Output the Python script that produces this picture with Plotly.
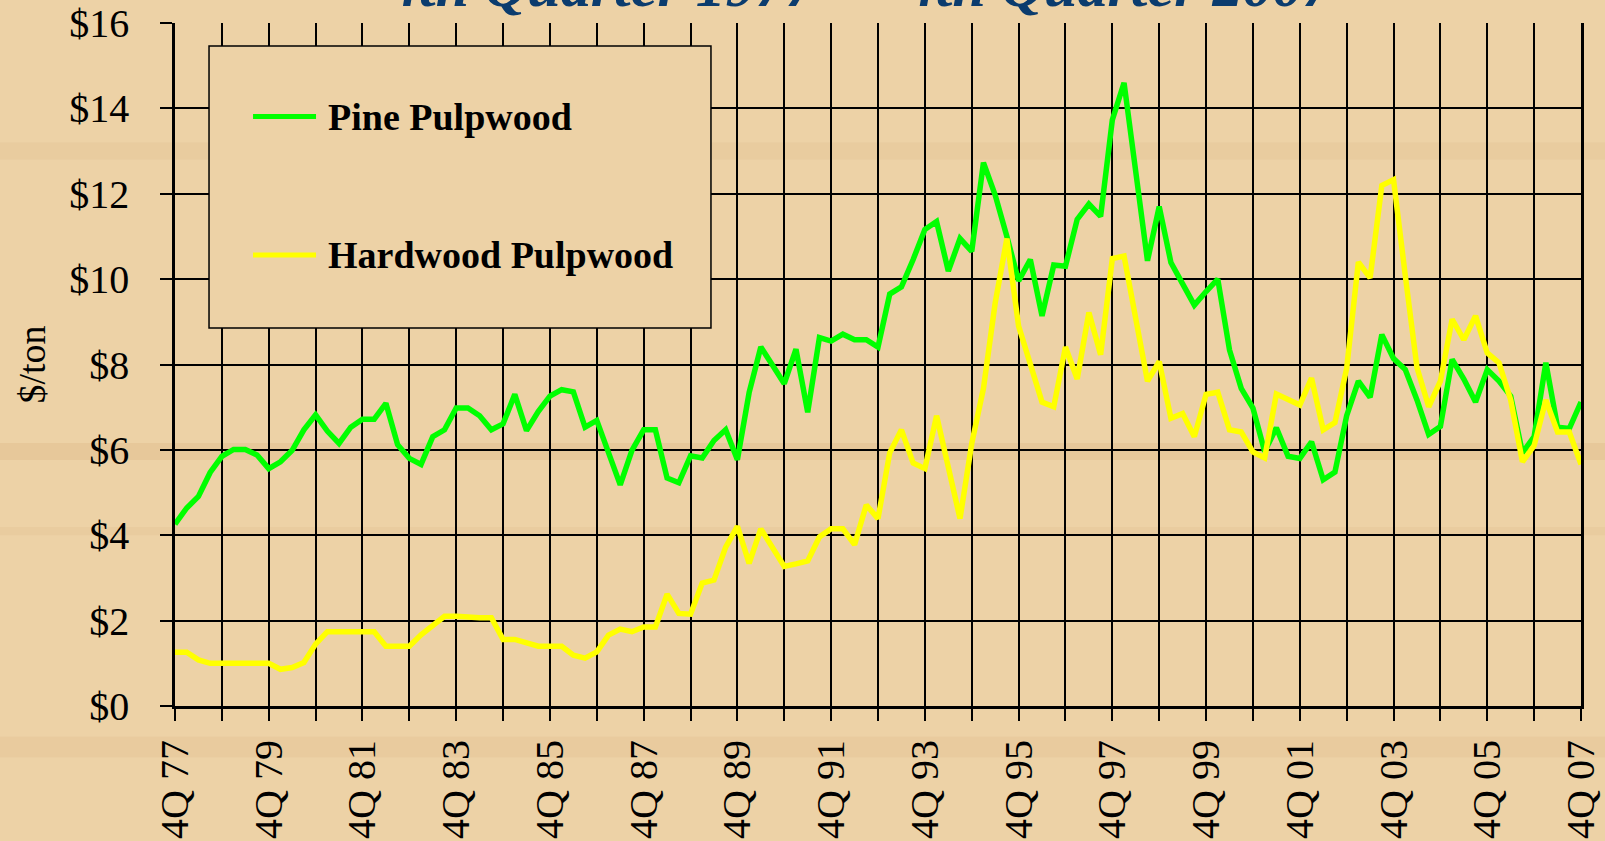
import plotly.graph_objects as go

# ---------------- data (quarterly, 4Q 1977 .. 4Q 2007) ----------------
pine = [
    4.26, 4.64, 4.91, 5.47, 5.85, 6.01, 6.01, 5.88, 5.56, 5.72,
    5.99, 6.47, 6.82, 6.44, 6.15, 6.53, 6.72, 6.72, 7.09, 6.12,
    5.80, 5.66, 6.31, 6.47, 6.98, 6.98, 6.80, 6.47, 6.61, 7.30,
    6.45, 6.90, 7.26, 7.41, 7.36, 6.53, 6.69, 5.93, 5.18, 5.99,
    6.47, 6.47, 5.34, 5.23, 5.86, 5.81, 6.22, 6.47, 5.77, 7.34,
    8.41, 7.98, 7.55, 8.36, 6.88, 8.63, 8.55, 8.71, 8.58, 8.58,
    8.41, 9.65, 9.82, 10.46, 11.16, 11.35, 10.19, 10.95, 10.65, 12.73,
    11.97, 11.00, 9.96, 10.46, 9.14, 10.33, 10.30, 11.40, 11.76, 11.47,
    13.73, 14.60, 12.50, 10.43, 11.70, 10.39, 9.89, 9.39, 9.71, 10.00,
    8.34, 7.44, 6.98, 5.96, 6.52, 5.85, 5.80, 6.19, 5.30, 5.48,
    6.80, 7.61, 7.23, 8.70, 8.14, 7.88, 7.17, 6.36, 6.55, 8.12,
    7.66, 7.12, 7.88, 7.61, 7.26, 5.93, 6.31, 8.04, 6.53, 6.50,
    7.12,
]
hardwood = [
    1.26, 1.26, 1.08, 1.00, 1.00, 1.00, 1.00, 1.00, 1.00, 0.86,
    0.90, 1.02, 1.45, 1.74, 1.74, 1.74, 1.74, 1.74, 1.40, 1.40,
    1.40, 1.67, 1.87, 2.10, 2.10, 2.07, 2.07, 2.07, 1.56, 1.56,
    1.48, 1.40, 1.40, 1.40, 1.19, 1.12, 1.27, 1.66, 1.80, 1.74,
    1.85, 1.85, 2.62, 2.17, 2.15, 2.88, 2.95, 3.72, 4.21, 3.34,
    4.15, 3.72, 3.27, 3.33, 3.40, 3.96, 4.15, 4.15, 3.78, 4.71,
    4.39, 5.93, 6.47, 5.69, 5.56, 6.80, 5.66, 4.39, 6.15, 7.44,
    9.44, 10.95, 8.90, 8.04, 7.12, 7.01, 8.41, 7.66, 9.22, 8.23,
    10.48, 10.54, 9.10, 7.61, 8.07, 6.74, 6.85, 6.31, 7.30, 7.35,
    6.47, 6.42, 5.95, 5.81, 7.31, 7.17, 7.05, 7.68, 6.47, 6.64,
    7.91, 10.40, 10.03, 12.19, 12.33, 10.09, 7.93, 7.01, 7.61, 9.06,
    8.58, 9.14, 8.27, 8.04, 7.17, 5.72, 6.10, 7.17, 6.42, 6.42,
    5.66,
]
quarter_index = list(range(len(pine)))

tick_years = ["77", "78", "79", "80", "81", "82", "83", "84", "85", "86",
              "87", "88", "89", "90", "91", "92", "93", "94", "95", "96",
              "97", "98", "99", "00", "01", "02", "03", "04", "05", "06", "07"]
tick_labels = [("4Q " + yr) if k % 2 == 0 else "" for k, yr in enumerate(tick_years)]
x_tick_positions = [4 * k for k in range(len(tick_years))]
y_ticks = [0, 2, 4, 6, 8, 10, 12, 14, 16]
y_tick_labels = ["$" + str(v) for v in y_ticks]

series_names = ["Pine Pulpwood", "Hardwood Pulpwood"]
series_colors = ["#00FF00", "#FFFF00"]

title_text = "4th Quarter 1977 \u2014 4th Quarter 2007"
y_title = "$/ton"

# ---------------- figure ----------------
BG = "#EDD2A6"
SERIF = "Liberation Serif, Times New Roman, serif"

fig = go.Figure()
for name, values, color in zip(series_names, [pine, hardwood], series_colors):
    fig.add_trace(go.Scatter(
        x=quarter_index, y=values, mode="lines", name=name,
        line=dict(color=color, width=5.5), showlegend=False,
    ))

# faint wood-grain like bands in the background
bands = [(0.80, 0.825, "rgba(190,140,80,0.08)"),
         (0.36, 0.385, "rgba(190,130,70,0.12)"),
         (0.25, 0.262, "rgba(190,130,70,0.07)"),
         (-0.075, -0.045, "rgba(190,130,70,0.08)")]
shapes = []
for y0, y1, col in bands:
    shapes.append(dict(type="rect", xref="paper", yref="paper", x0=-0.2, x1=1.1,
                       y0=y0, y1=y1, fillcolor=col, line=dict(width=0), layer="below"))

# custom legend box
shapes.append(dict(type="rect", xref="paper", yref="paper",
                   x0=0.0242, x1=0.3812, y0=0.5535, y1=0.9663,
                   fillcolor=BG, line=dict(color="black", width=1.5), layer="above"))
legend_rows = [0.8630, 0.6603]
annotations = []
for name, color, yy in zip(series_names, series_colors, legend_rows):
    shapes.append(dict(type="line", xref="paper", yref="paper",
                       x0=0.0555, x1=0.1003, y0=yy, y1=yy,
                       line=dict(color=color, width=5), layer="above"))
    annotations.append(dict(text=name, xref="paper", yref="paper",
                            x=0.1074, y=yy, xanchor="left", yanchor="middle",
                            showarrow=False,
                            font=dict(family=SERIF, size=38, color="black", weight="bold")))

annotations.append(dict(text=title_text, xref="paper", yref="paper",
                        x=0.488, y=1.0, xanchor="center", yanchor="bottom",
                        yshift=2, showarrow=False,
                        font=dict(family=SERIF, size=60, color="#0B3C6E",
                                  style="italic", weight="bold")))

fig.update_layout(
    width=1605, height=841,
    margin=dict(l=175, r=24, t=23, b=135, autoexpand=False),
    paper_bgcolor=BG, plot_bgcolor="rgba(0,0,0,0)",
    shapes=shapes, annotations=annotations,
    showlegend=False,
    font=dict(family=SERIF, color="black"),
)
fig.update_xaxes(
    range=[0, 120], tickmode="array", tickvals=x_tick_positions, ticktext=tick_labels,
    tickangle=-90, ticks="outside", ticklen=12, tickwidth=2, tickcolor="black",
    showgrid=True, gridcolor="black", gridwidth=1.5,
    showline=True, linecolor="black", linewidth=3, zeroline=False, automargin=False,
    tickfont=dict(family=SERIF, size=40, color="black"), ticklabelstandoff=3,
)
fig.update_yaxes(
    range=[0, 16], tickmode="array", tickvals=y_ticks, ticktext=y_tick_labels,
    ticks="outside", ticklen=12, tickwidth=2, tickcolor="black",
    showgrid=True, gridcolor="black", gridwidth=1.5,
    showline=True, linecolor="black", linewidth=2.5, mirror=True, zeroline=False,
    automargin=False,
    tickfont=dict(family=SERIF, size=40, color="black"), ticklabelstandoff=23,
    title=dict(text=y_title, font=dict(family=SERIF, size=38, color="black"), standoff=12),
)

fig.write_html(
    "out.html",
    config={"displayModeBar": False},
    post_script="document.body.style.margin='0px';document.body.style.overflow='hidden';",
)
